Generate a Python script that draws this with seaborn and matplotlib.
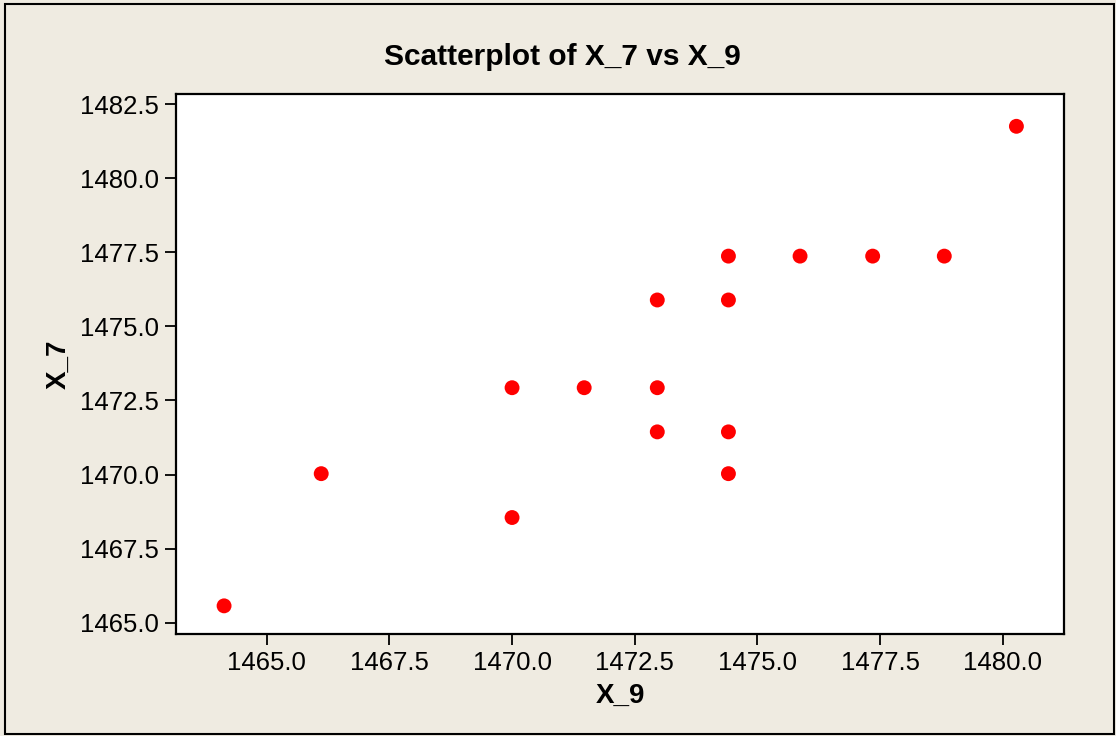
import matplotlib
matplotlib.use("Agg")
import matplotlib.pyplot as plt
import seaborn as sns
import pandas as pd
from matplotlib.patches import Rectangle

x9 = [1464.13, 1466.11, 1470.0, 1470.0, 1471.47, 1472.96, 1472.96, 1472.96,
      1474.41, 1474.41, 1474.41, 1474.41, 1475.87, 1477.35, 1478.81, 1480.28]
x7 = [1465.57, 1470.03, 1468.55, 1472.93, 1472.93, 1472.93, 1471.44, 1475.89,
      1477.37, 1475.89, 1471.44, 1470.03, 1477.37, 1477.37, 1477.37, 1481.75]
xticks = [1465.0, 1467.5, 1470.0, 1472.5, 1475.0, 1477.5, 1480.0]
yticks = [1465.0, 1467.5, 1470.0, 1472.5, 1475.0, 1477.5, 1480.0, 1482.5]

df = pd.DataFrame({"X_9": x9, "X_7": x7})

sns.set_style("ticks")
plt.rcParams['font.family'] = ['Liberation Sans', 'DejaVu Sans']
plt.rcParams['text.color'] = 'black'
plt.rcParams['axes.labelcolor'] = 'black'

bg = "#EFEBE1"
fig = plt.figure(figsize=(11.16, 7.36), dpi=100, facecolor=bg)
ax = fig.add_axes([176/1116, 1-634/736, (1064-176)/1116, (634-94)/736])
ax.set_facecolor("white")

sns.scatterplot(data=df, x="X_9", y="X_7", ax=ax, color="#FF0000", s=115,
                edgecolor="none", linewidth=0)

ax.set_xlim(1463.15, 1481.25)
ax.set_ylim(1464.62, 1482.84)
ax.set_xticks(xticks)
ax.set_yticks(yticks)
ax.set_xticklabels([f"{v:.1f}" for v in xticks])
ax.set_yticklabels([f"{v:.1f}" for v in yticks])
ax.tick_params(axis="both", direction="out", length=8, width=1.3, labelsize=18.5,
               colors="black", labelcolor="black", pad=4)
for sp in ax.spines.values():
    sp.set_visible(True)
    sp.set_linewidth(1.6)
    sp.set_color("black")

ax.set_xlabel("X_9", fontsize=20, fontweight="bold", labelpad=6, color="black")
ax.set_ylabel("X_7", fontsize=20, fontweight="bold", labelpad=6, color="black")
fig.text(562/1116, 1-57/736, "Scatterplot of X_7 vs X_9", ha="center", va="center",
         fontsize=21.5, fontweight="bold", color="black")

# outer frame
fig.patches.append(Rectangle((5/1116, 1-734/736), (1114-5)/1116, (734-4)/736,
                             transform=fig.transFigure, fill=False,
                             edgecolor="black", linewidth=1.5))

fig.savefig("out.png", dpi=100, facecolor=bg)
